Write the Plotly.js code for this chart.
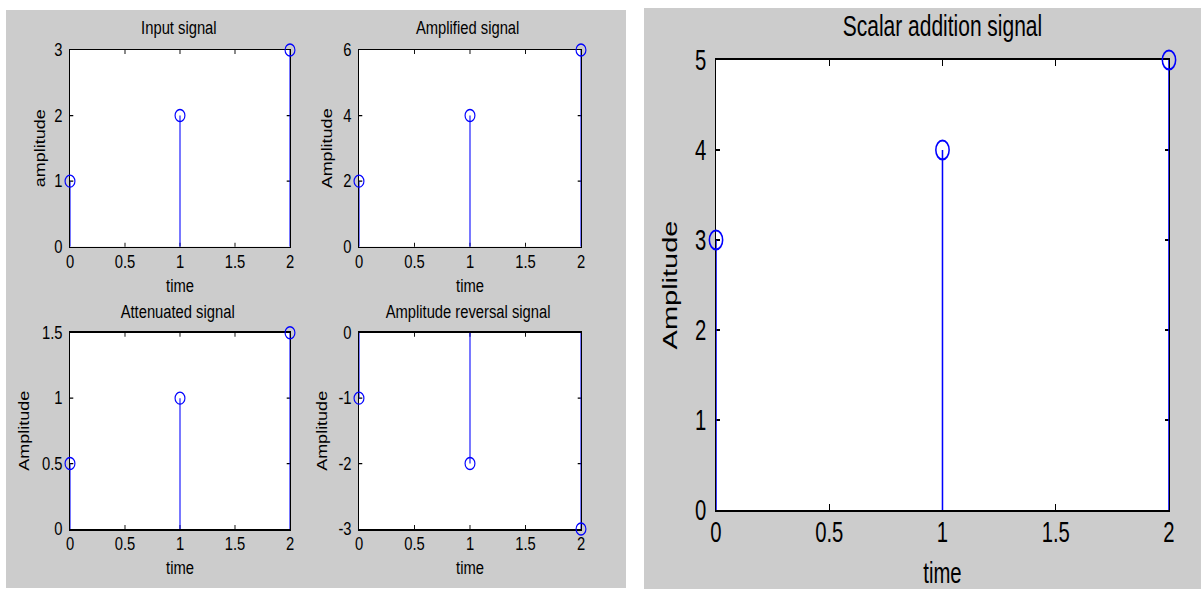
<!DOCTYPE html>
<html><head><meta charset="utf-8">
<script src="https://cdn.plot.ly/plotly-3.0.1.min.js"></script>
<style>
html,body{margin:0;padding:0;background:#fff;overflow:hidden;width:1201px;height:589px;}
#left{position:absolute;left:0;top:0;width:774px;height:589px;transform-origin:0 0;transform:scaleX(0.8204);}
#right{position:absolute;left:635px;top:0;width:809px;height:589px;transform-origin:0 0;transform:scaleX(0.6996);}
</style></head><body>
<div id="left"></div><div id="right"></div>
<script>
// ---- data ----
const time = [0, 1, 2];
const inputSignal = [1, 2, 3];
const amplifiedSignal = [2, 4, 6];
const attenuatedSignal = [0.5, 1, 1.5];
const reversedSignal = [-1, -2, -3];
const scalarAdditionSignal = [3, 4, 5];

const xTickVals = [0, 0.5, 1, 1.5, 2];
const xTickText = ['0', '0.5', '1', '1.5', '2'];
const inputTicks = [0, 1, 2, 3];
const amplifiedTicks = [0, 2, 4, 6];
const attenuatedTicks = [0, 0.5, 1, 1.5];
const attenuatedTickText = ['0', '0.5', '1', '1.5'];
const reversedTicks = [-3, -2, -1, 0];
const scalarTicks = [0, 1, 2, 3, 4, 5];

const subplotTitles = ['Input signal', 'Amplified signal', 'Attenuated signal', 'Amplitude reversal signal'];
const yTitles = ['amplitude', 'Amplitude', 'Amplitude', 'Amplitude'];
const xTitle = 'time';
const rightTitle = 'Scalar addition signal';
const rightYTitle = 'Amplitude';

// ---- styling ----
const FONT = 'Liberation Sans, Arial, Helvetica, sans-serif';
const BLUE = '#0000ff';
const GREY = '#cccccc';

function stem(y, xa, ya, size, lw, mlw) {
  return {
    type: 'scatter', mode: 'markers', x: time, y: y, xaxis: xa, yaxis: ya,
    cliponaxis: false, hoverinfo: 'skip', showlegend: false,
    marker: {symbol: 'circle-open', size: size, color: BLUE, line: {width: mlw, color: BLUE}},
    error_y: {type: 'data', symmetric: false,
      array: y.map(v => Math.max(0, -v)), arrayminus: y.map(v => Math.max(0, v)),
      width: 0, color: BLUE, thickness: lw}
  };
}

function xAxis(domain, anchor, fs, tl, lw, standoff, tls) {
  return {domain: domain, anchor: anchor, range: [0, 2], tickmode: 'array', tickvals: xTickVals, ticktext: xTickText,
    ticks: 'inside', ticklen: tl, tickwidth: lw * 0.75, tickcolor: '#000', showline: true, linecolor: '#000', linewidth: lw,
    mirror: 'ticks', showgrid: false, zeroline: false, layer: 'below traces', fixedrange: true,
    ticklabelstandoff: tls,
    tickfont: {family: FONT, size: fs, color: '#000'},
    title: {text: xTitle, font: {family: FONT, size: fs, color: '#000'}, standoff: standoff}};
}
function yAxis(domain, anchor, range, vals, text, title, fs, tl, lw, standoff, tls) {
  return {domain: domain, anchor: anchor, range: range, tickmode: 'array', tickvals: vals, ticktext: text,
    ticks: 'inside', ticklen: tl, tickwidth: lw * 0.75, tickcolor: '#000', showline: true, linecolor: '#000', linewidth: lw,
    mirror: 'ticks', showgrid: false, zeroline: false, layer: 'below traces', fixedrange: true,
    ticklabelstandoff: tls,
    tickfont: {family: FONT, size: fs, color: '#000'},
    title: {text: title, font: {family: FONT, size: fs, color: '#000'}, standoff: standoff}};
}

// ---- left figure (2x2) ----
const LW = 635, H = 589;
const fx = px => px / LW, fy = py => 1 - py / H;
const colL = [fx(70), fx(290)], colR = [fx(359), fx(581)];
const rowT = [fy(246.7), fy(50)], rowB = [fy(529), fy(332.7)];

const leftData = [
  stem(inputSignal, 'x', 'y', 12, 1.3, 1.4),
  stem(amplifiedSignal, 'x2', 'y2', 12, 1.3, 1.4),
  stem(attenuatedSignal, 'x3', 'y3', 12, 1.3, 1.4),
  stem(reversedSignal, 'x4', 'y4', 12, 1.3, 1.4)
];
const doms = [[colL, rowT], [colR, rowT], [colL, rowB], [colR, rowB]];
const leftShapes = [{type: 'rect', xref: 'paper', yref: 'paper', x0: fx(6), x1: fx(626), y0: fy(588), y1: fy(10),
  fillcolor: GREY, line: {width: 0}, layer: 'below'}];
doms.forEach(d => leftShapes.push({type: 'rect', xref: 'paper', yref: 'paper', x0: d[0][0], x1: d[0][1], y0: d[1][0], y1: d[1][1],
  fillcolor: '#ffffff', line: {width: 0}, layer: 'below'}));

const titleY = [28.5, 28.5, 311.5, 311.5];
const titleX = [179, 468, 178, 468];
const leftAnn = subplotTitles.map((t, i) => ({text: t, xref: 'paper', yref: 'paper', x: fx(titleX[i]), y: fy(titleY[i]),
  xanchor: 'center', yanchor: 'middle', showarrow: false, font: {family: FONT, size: 18, color: '#000'}}));

const leftLayout = {
  width: 774, height: 589, margin: {l: 0, r: 0, t: 0, b: 0},
  paper_bgcolor: '#ffffff', plot_bgcolor: '#ffffff', showlegend: false,
  xaxis: xAxis(colL, 'y', 18, 4, 1.5, 8, -2),
  yaxis: yAxis(rowT, 'x', [0, 3], inputTicks, inputTicks.map(String), yTitles[0], 18, 4, 1.5, 6, 4),
  xaxis2: xAxis(colR, 'y2', 18, 4, 1.5, 8, -2),
  yaxis2: yAxis(rowT, 'x2', [0, 6], amplifiedTicks, amplifiedTicks.map(String), yTitles[1], 18, 4, 1.5, 8, 4),
  xaxis3: xAxis(colL, 'y3', 18, 4, 1.5, 8, -2),
  yaxis3: yAxis(rowB, 'x3', [0, 1.5], attenuatedTicks, attenuatedTickText, yTitles[2], 18, 4, 1.5, 10, 4),
  xaxis4: xAxis(colR, 'y4', 18, 4, 1.5, 8, -2),
  yaxis4: yAxis(rowB, 'x4', [-3, 0], reversedTicks, reversedTicks.map(String), yTitles[3], 18, 4, 1.5, 8, 4),
  shapes: leftShapes, annotations: leftAnn
};

// ---- right figure ----
const RW = 566;
const gx = px => (px - 635) / RW;
const rDomX = [gx(716), gx(1169)], rDomY = [fy(510), fy(60)];
const rightLayout = {
  width: 809, height: 589, margin: {l: 0, r: 0, t: 0, b: 0},
  paper_bgcolor: '#ffffff', plot_bgcolor: '#ffffff', showlegend: false,
  title: {text: rightTitle, xref: 'paper', yref: 'container', x: (rDomX[0] + rDomX[1]) / 2, xanchor: 'center',
    y: fy(26), yanchor: 'middle', font: {family: FONT, size: 30, color: '#000'}},
  xaxis: xAxis(rDomX, 'y', 29, 6, 2, 16, -5),
  yaxis: yAxis(rDomY, 'x', [0, 5], scalarTicks, scalarTicks.map(String), rightYTitle, 29, 6, 2, 17, 6),
  shapes: [
    {type: 'rect', xref: 'paper', yref: 'paper', x0: gx(644), x1: 1, y0: 0, y1: fy(8), fillcolor: GREY, line: {width: 0}, layer: 'below'},
    {type: 'rect', xref: 'paper', yref: 'paper', x0: rDomX[0], x1: rDomX[1], y0: rDomY[0], y1: rDomY[1], fillcolor: '#ffffff', line: {width: 0}, layer: 'below'}
  ]
};
const rightData = [stem(scalarAdditionSignal, 'x', 'y', 19, 2.2, 2.2)];

const cfg = {staticPlot: true, displayModeBar: false};
Plotly.newPlot('left', leftData, leftLayout, cfg);
Plotly.newPlot('right', rightData, rightLayout, cfg);
</script>
</body></html>
